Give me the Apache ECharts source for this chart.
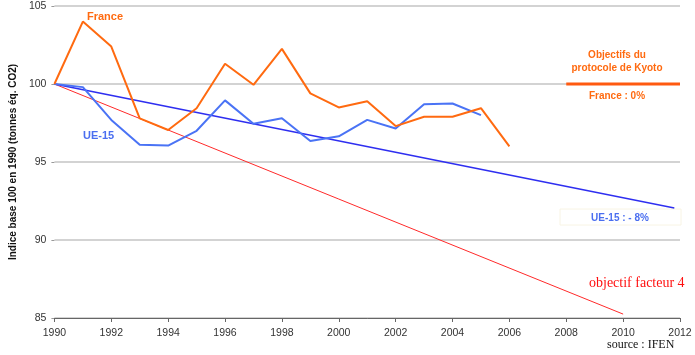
<!DOCTYPE html>
<html><head><meta charset="utf-8">
<script src="https://cdn.jsdelivr.net/npm/echarts@6/dist/echarts.min.js"></script>
<style>html,body{margin:0;padding:0;background:#fff}#c{width:695px;height:355px}</style>
</head><body><div id="c"></div>
<script>
const years = [1990,1991,1992,1993,1994,1995,1996,1997,1998,1999,2000,2001,2002,2003,2004,2005,2006];
const france = [100,104.0,102.4,97.8,97.05,98.45,101.3,99.95,102.25,99.4,98.5,98.9,97.3,97.9,97.9,98.45,96.0];
const ue15 = [100,99.8,97.7,96.1,96.05,97.0,98.95,97.45,97.8,96.35,96.65,97.7,97.15,98.7,98.75,98.0];
const ueTarget = [[1990,100],[2011.8,92.05]];
const factor4 = [[1990,100],[2010,85.25]];
const kyotoFrance = [[2008,100],[2012,100]];
const xTicks = [1990,1992,1994,1996,1998,2000,2002,2004,2006,2008,2010,2012];
const yTicks = [85,90,95,100,105];

const chart = echarts.init(document.getElementById('c'));
const pair = (xs, vs) => vs.map((v,i)=>[xs[i],v]);
chart.setOption({
  animation:false,
  backgroundColor:'#ffffff',
  grid:{left:45,right:15,top:6,bottom:37},
  xAxis:{type:'value',min:xTicks[0],max:xTicks[xTicks.length-1],interval:2,
    axisLine:{lineStyle:{color:'#666',width:1}},
    axisTick:{show:true,length:4,lineStyle:{color:'#666'}},
    axisLabel:{color:'#333',fontSize:10.5,fontFamily:'Liberation Sans, Arial',margin:10,formatter:v=>String(v)},
    splitLine:{show:false}},
  yAxis:{type:'value',min:yTicks[0],max:yTicks[yTicks.length-1],interval:5,
    name:'Indice base 100 en 1990 (tonnes éq. CO2)',nameLocation:'middle',nameGap:35,
    nameTextStyle:{fontWeight:'bold',fontSize:10,color:'#111',fontFamily:'Liberation Sans, Arial'},
    axisLine:{show:false},
    axisTick:{show:true,length:3,lineStyle:{color:'#999'}},
    axisLabel:{color:'#333',fontSize:10.5,fontFamily:'Liberation Sans, Arial',margin:8},
    splitLine:{lineStyle:{color:'#c4c4c4',width:1.5}}},
  series:[
    {type:'line',data:factor4,symbol:'none',lineStyle:{color:'#ff2a2a',width:1},z:2},
    {type:'line',data:ueTarget,symbol:'none',lineStyle:{color:'#2e2ef0',width:1.5},z:3},
    {type:'line',data:pair(years,ue15),symbol:'none',lineStyle:{color:'#4a73f5',width:2},z:4},
    {type:'line',data:pair(years,france),symbol:'none',lineStyle:{color:'#ff6a10',width:2},z:5},
    {type:'line',data:kyotoFrance,symbol:'none',lineStyle:{color:'#ff5a10',width:3},z:5}
  ],
  graphic:[
    {type:'text',left:87,top:11,style:{text:'France',fill:'#ff6a10',font:'bold 11px Liberation Sans, Arial'}},
    {type:'text',left:83,top:130,style:{text:'UE-15',fill:'#4a6ef0',font:'bold 11px Liberation Sans, Arial'}},
    {type:'text',x:617,y:49,style:{text:'Objectifs du\nprotocole de Kyoto',fill:'#ff6a10',font:'bold 10px Liberation Sans, Arial',align:'center',lineHeight:13}},
    {type:'text',x:617,y:91,style:{text:'France : 0%',fill:'#ff6a10',font:'bold 10px Liberation Sans, Arial',align:'center'}},
    {type:'rect',shape:{x:560,y:209,width:121,height:16},style:{fill:'none',stroke:'#f8f4e4',lineWidth:1},z:1},
    {type:'text',x:620,y:213,style:{text:'UE-15 : - 8%',fill:'#4a6ef0',font:'bold 10px Liberation Sans, Arial',align:'center'}},
    {type:'text',left:589,top:276,style:{text:'objectif facteur 4',fill:'#ff1010',font:'14px Liberation Serif, Times New Roman'}},
    {type:'text',left:607,top:339,style:{text:'source : IFEN',fill:'#111',font:'12px Liberation Serif, Times New Roman'}}
  ]
});
</script></body></html>
